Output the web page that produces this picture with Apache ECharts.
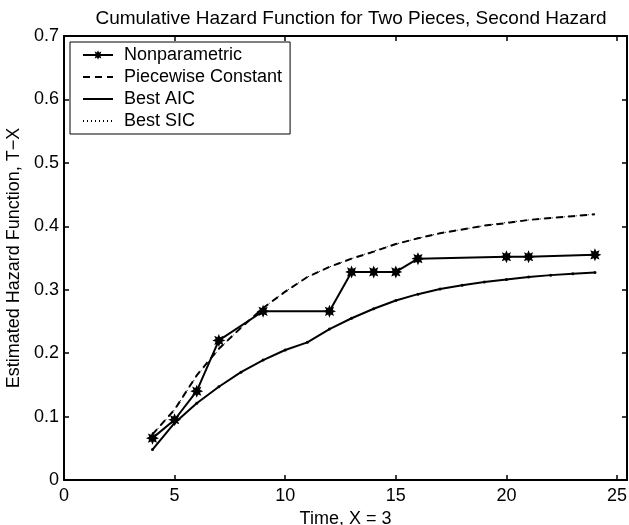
<!DOCTYPE html>
<html>
<head>
<meta charset="utf-8">
<script src="https://cdn.jsdelivr.net/npm/echarts@6/dist/echarts.min.js"></script>
<style>
  html, body { margin: 0; padding: 0; background: #fff; }
  #chart { width: 629px; height: 525px; }
</style>
</head>
<body>
<div id="chart"></div>
<script>
// values
var timesNonpar = [4, 5, 6, 7, 9, 12, 13, 14, 15, 16, 20, 21, 24]
var nonparametric = [0.066, 0.095, 0.140, 0.220, 0.266, 0.266, 0.328, 0.328, 0.328, 0.349, 0.352, 0.352, 0.355]

var timesFit = [4, 5, 6, 7, 8, 9, 10, 11, 12, 13, 14, 15, 16, 17, 18, 19, 20, 21, 22, 23, 24]
var piecewiseConst = [0.072, 0.111, 0.165, 0.207, 0.240, 0.271, 0.297, 0.320, 0.336, 0.349, 0.360, 0.372, 0.381, 0.389, 0.395, 0.401, 0.405, 0.410, 0.413, 0.416, 0.419]
var bestAIC = [0.048, 0.090, 0.121, 0.147, 0.170, 0.189, 0.205, 0.217, 0.238, 0.255, 0.270, 0.283, 0.293, 0.301, 0.307, 0.312, 0.316, 0.320, 0.323, 0.325, 0.327]
var bestSIC = [0.071, 0.111, 0.164, 0.206, 0.240, 0.271, 0.297, 0.320, 0.336, 0.349, 0.361, 0.372, 0.381, 0.389, 0.395, 0.401, 0.406, 0.410, 0.413, 0.416, 0.419]

var xTicks = [0, 5, 10, 15, 20, 25]
var yTicks = [0, 0.1, 0.2, 0.3, 0.4, 0.5, 0.6, 0.7]

var FONT = '"Liberation Sans", Arial, Helvetica, sans-serif'
// bold 8-point asterisk, like matlab's '*' marker
var STAR = 'path://M10 0L12.1 4.92L17.07 2.93L15.08 7.9L20 10L15.08 12.1L17.07 17.07L12.1 15.08L10 20L7.9 15.08L2.93 17.07L4.92 12.1L0 10L4.92 7.9L2.93 2.93L7.9 4.92Z'

function pairs(xs, ys) {
  return xs.map(function (x, i) { return [x, ys[i]] })
}

var chart = echarts.init(document.getElementById('chart'), null, { renderer: 'canvas' })

var boxLine = { show: true, onZero: false, lineStyle: { color: '#000', width: 2 } }
var tick = { show: true, inside: true, length: 5, lineStyle: { color: '#000', width: 1.5 } }
var noMark = { opacity: 0 }

chart.setOption({
  animation: false,
  backgroundColor: '#fff',
  textStyle: { fontFamily: FONT },
  title: {
    text: 'Cumulative Hazard Function for Two Pieces, Second Hazard',
    left: 346,
    textAlign: 'center',
    top: 4,
    textStyle: { fontFamily: FONT, fontSize: 19, fontWeight: 'normal', color: '#000' }
  },
  grid: {
    left: 64,
    right: 2,
    top: 36,
    bottom: 45,
    outerBoundsMode: 'none'
  },
  legend: {
    orient: 'vertical',
    left: 70,
    top: 42,
    padding: [4, 8, 4, 12],
    itemGap: 4,
    itemWidth: 30,
    itemHeight: 12,
    backgroundColor: '#fff',
    borderColor: '#000',
    borderWidth: 1,
    textStyle: { fontFamily: FONT, fontSize: 18, color: '#000', padding: [0, 0, 0, 6] },
    data: [
      { name: 'Nonparametric' },
      { name: 'Piecewise Constant', itemStyle: noMark },
      { name: 'Best AIC', itemStyle: noMark },
      { name: 'Best SIC', itemStyle: noMark }
    ]
  },
  xAxis: [{
    type: 'value',
    min: 0,
    max: 25.45,
    interval: 5,
    name: 'Time, X = 3',
    nameLocation: 'middle',
    nameGap: 27,
    nameTextStyle: { fontFamily: FONT, fontSize: 18, color: '#000' },
    axisLine: boxLine,
    axisTick: tick,
    splitLine: { show: false },
    axisLabel: {
      color: '#000',
      fontFamily: FONT,
      fontSize: 18,
      margin: 7,
      formatter: function (v) { return xTicks.indexOf(v) >= 0 ? String(v) : '' }
    }
  }, {
    type: 'value',
    position: 'top',
    min: 0,
    max: 25.45,
    interval: 5,
    axisLine: boxLine,
    axisTick: tick,
    axisLabel: { show: false },
    splitLine: { show: false }
  }],
  yAxis: [{
    type: 'value',
    min: 0,
    max: 0.7,
    interval: 0.1,
    name: 'Estimated Hazard Function, T\u2212X',
    nameLocation: 'middle',
    nameGap: 38,
    nameTextStyle: { fontFamily: FONT, fontSize: 18, color: '#000' },
    axisLine: boxLine,
    axisTick: tick,
    splitLine: { show: false },
    axisLabel: {
      color: '#000',
      fontFamily: FONT,
      fontSize: 18,
      margin: 5,
      formatter: function (v) {
        var r = Math.round(v * 10) / 10
        return yTicks.indexOf(r) >= 0 ? (r === 0 ? '0' : r.toFixed(1)) : ''
      }
    }
  }, {
    type: 'value',
    position: 'right',
    min: 0,
    max: 0.7,
    interval: 0.1,
    axisLine: boxLine,
    axisTick: tick,
    axisLabel: { show: false },
    splitLine: { show: false }
  }],
  series: [{
    name: 'Nonparametric',
    type: 'line',
    data: pairs(timesNonpar, nonparametric),
    symbol: STAR,
    symbolSize: 13,
    showAllSymbol: true,
    itemStyle: { color: '#000' },
    lineStyle: { color: '#000', width: 2 },
    z: 5
  }, {
    name: 'Piecewise Constant',
    type: 'line',
    data: pairs(timesFit, piecewiseConst),
    symbol: 'none',
    itemStyle: { color: '#000' },
    lineStyle: { color: '#000', width: 2, type: [7, 5] },
    z: 3
  }, {
    name: 'Best AIC',
    type: 'line',
    data: pairs(timesFit, bestAIC),
    symbol: 'circle',
    symbolSize: 3,
    showAllSymbol: true,
    itemStyle: { color: '#000' },
    lineStyle: { color: '#000', width: 2 },
    z: 4
  }, {
    name: 'Best SIC',
    type: 'line',
    data: pairs(timesFit, bestSIC),
    symbol: 'none',
    itemStyle: { color: '#000' },
    lineStyle: { color: '#000', width: 1, type: [1, 3] },
    z: 2
  }]
})
</script>
</body>
</html>
